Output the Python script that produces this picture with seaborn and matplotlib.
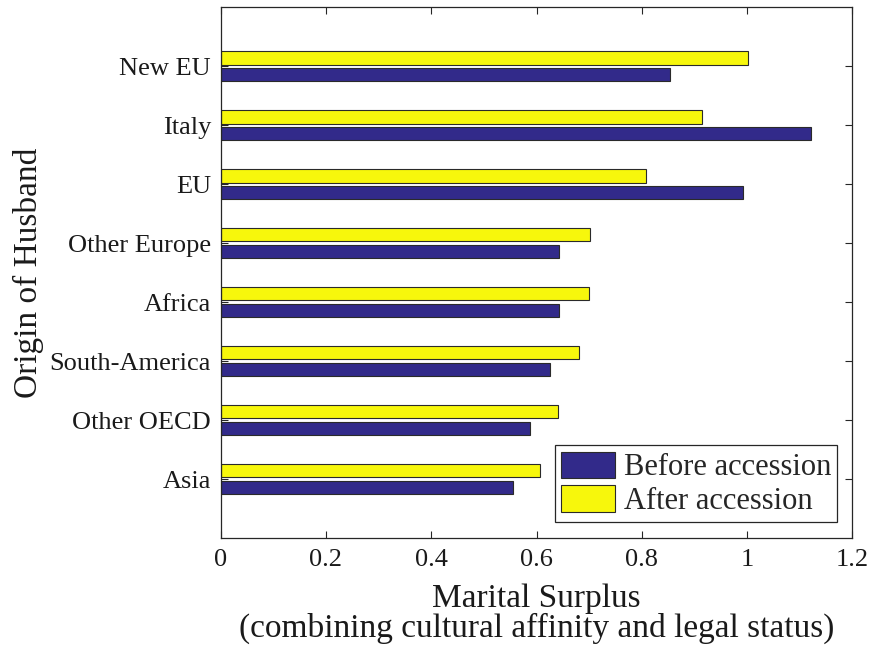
import matplotlib
matplotlib.use("Agg")
import matplotlib.pyplot as plt
import seaborn as sns
import pandas as pd
from matplotlib.ticker import FixedLocator, FuncFormatter

categories = ["New EU", "Italy", "EU", "Other Europe", "Africa",
              "South-America", "Other OECD", "Asia"]
before = [0.854, 1.122, 0.992, 0.643, 0.642, 0.625, 0.588, 0.556]
after = [1.001, 0.915, 0.808, 0.701, 0.699, 0.680, 0.641, 0.606]
series = ["Before accession", "After accession"]
x_ticks = [0, 0.2, 0.4, 0.6, 0.8, 1.0, 1.2]

df = pd.DataFrame({
    "Origin": categories * 2,
    "Value": before + after,
    "Series": [series[0]] * len(categories) + [series[1]] * len(categories),
})

sns.set_theme(style="white")
plt.rcParams["font.family"] = ["Liberation Serif", "DejaVu Serif"]

fig = plt.figure(figsize=(8.71, 6.57), dpi=100)
ax = fig.add_axes([0.2534, 0.1811, 0.7252, 0.8078])

colors = {"Before accession": "#322a8a", "After accession": "#f7f70c"}
sns.barplot(data=df, x="Value", y="Origin", hue="Series", orient="h",
            order=categories, hue_order=[series[1], series[0]],
            palette=colors, width=0.572, gap=0.2, ax=ax,
            edgecolor="#2a2a2a", linewidth=0.8, saturation=1)

ax.set_xlim(0, 1.2)
ax.set_ylim(len(categories), -1)
ax.xaxis.set_major_locator(FixedLocator(x_ticks))
ax.xaxis.set_major_formatter(FuncFormatter(lambda v, p: f"{v:g}"))

for sp in ax.spines.values():
    sp.set_color("#262626")
    sp.set_linewidth(0.9)
    sp.set_visible(True)

ax.tick_params(axis="both", direction="in", top=True, right=True,
               bottom=True, left=True, length=5, width=0.8,
               color="#262626", labelsize=19, labelcolor="#1a1a1a")
ax.tick_params(axis="x", pad=8)
ax.tick_params(axis="y", pad=7)

ax.set_xlabel("Marital Surplus\n(combining cultural affinity and legal status)",
              fontsize=24, color="#1a1a1a", labelpad=9, linespacing=0.95)
ax.set_ylabel("Origin of Husband", fontsize=24, color="#1a1a1a", labelpad=4)

handles, labels = ax.get_legend_handles_labels()
hmap = dict(zip(labels, handles))
leg = ax.legend([hmap[s] for s in series], series, loc="lower right",
                bbox_to_anchor=(0.976, 0.030), borderaxespad=0,
                fontsize=22, frameon=True, fancybox=False, framealpha=1,
                edgecolor="#262626", handlelength=1.75, handleheight=0.95,
                handletextpad=0.3, borderpad=0.2, labelspacing=0.1)
leg.get_frame().set_linewidth(0.9)

fig.savefig("out.png", dpi=100)
